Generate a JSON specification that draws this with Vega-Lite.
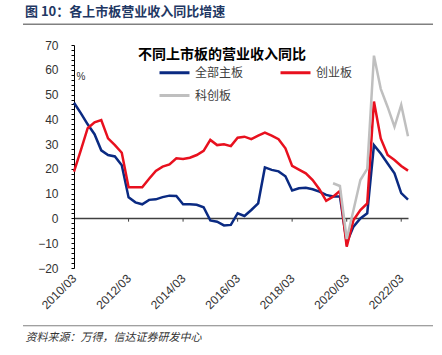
{
  "$schema": "https://vega.github.io/schema/vega-lite/v6.json",
  "width": 334,
  "height": 223,
  "autosize": {"type": "none"},
  "padding": {"left": 74, "top": 45, "right": 34, "bottom": 87},
  "config": {
    "view": {"stroke": null},
    "font": "Liberation Sans"
  },
  "title": {
    "text": "图 10：各上市板营业收入同比增速",
    "anchor": "start",
    "frame": "group",
    "dx": -49,
    "offset": 4,
    "font": "Noto Sans CJK SC",
    "fontSize": 13,
    "fontWeight": "bold",
    "color": "#1f3864"
  },
  "resolve": {"axis": {"y": "independent"}},
  "layer": [
    {
      "data": {"values": [
        {"d": "2010-03-31", "全部主板": 46.7, "创业板": 18.9},
        {"d": "2010-06-30", "全部主板": 42.5, "创业板": 27.5},
        {"d": "2010-09-30", "全部主板": 38.0, "创业板": 36.4},
        {"d": "2010-12-31", "全部主板": 34.0, "创业板": 38.8},
        {"d": "2011-03-31", "全部主板": 27.5, "创业板": 39.7},
        {"d": "2011-06-30", "全部主板": 25.6, "创业板": 32.3},
        {"d": "2011-09-30", "全部主板": 25.0, "创业板": 29.6},
        {"d": "2011-12-31", "全部主板": 21.5, "创业板": 26.5},
        {"d": "2012-03-31", "全部主板": 8.5, "创业板": 12.6},
        {"d": "2012-06-30", "全部主板": 6.5, "创业板": 12.6},
        {"d": "2012-09-30", "全部主板": 5.7, "创业板": 12.6},
        {"d": "2012-12-31", "全部主板": 7.5, "创业板": 16.0},
        {"d": "2013-03-31", "全部主板": 7.7, "创业板": 19.2},
        {"d": "2013-06-30", "全部主板": 8.6, "创业板": 20.9},
        {"d": "2013-09-30", "全部主板": 9.2, "创业板": 21.8},
        {"d": "2013-12-31", "全部主板": 9.1, "创业板": 24.3},
        {"d": "2014-03-31", "全部主板": 5.7, "创业板": 24.0},
        {"d": "2014-06-30", "全部主板": 5.7, "创业板": 24.5},
        {"d": "2014-09-30", "全部主板": 5.5, "创业板": 25.6},
        {"d": "2014-12-31", "全部主板": 4.5, "创业板": 27.3},
        {"d": "2015-03-31", "全部主板": -0.8, "创业板": 31.7},
        {"d": "2015-06-30", "全部主板": -1.3, "创业板": 29.6},
        {"d": "2015-09-30", "全部主板": -2.8, "创业板": 29.9},
        {"d": "2015-12-31", "全部主板": -2.6, "创业板": 29.2},
        {"d": "2016-03-31", "全部主板": 2.1, "创业板": 32.6},
        {"d": "2016-06-30", "全部主板": 1.0, "创业板": 33.0},
        {"d": "2016-09-30", "全部主板": 3.4, "创业板": 32.0},
        {"d": "2016-12-31", "全部主板": 6.1, "创业板": 33.4},
        {"d": "2017-03-31", "全部主板": 20.6, "创业板": 34.6},
        {"d": "2017-06-30", "全部主板": 19.6, "创业板": 33.4},
        {"d": "2017-09-30", "全部主板": 19.0, "创业板": 32.0},
        {"d": "2017-12-31", "全部主板": 17.0, "创业板": 28.3},
        {"d": "2018-03-31", "全部主板": 11.3, "创业板": 21.2},
        {"d": "2018-06-30", "全部主板": 12.2, "创业板": 19.7},
        {"d": "2018-09-30", "全部主板": 12.4, "创业板": 18.2},
        {"d": "2018-12-31", "全部主板": 11.8, "创业板": 15.5},
        {"d": "2019-03-31", "全部主板": 10.8, "创业板": 11.8},
        {"d": "2019-06-30", "全部主板": 9.5, "创业板": 7.1},
        {"d": "2019-09-30", "全部主板": 8.9, "创业板": 8.8, "科创板": 14.2},
        {"d": "2019-12-31", "全部主板": 8.9, "创业板": 11.1, "科创板": 13.1},
        {"d": "2020-03-31", "全部主板": -9.8, "创业板": -11.4, "科创板": -8.3},
        {"d": "2020-06-30", "全部主板": -3.3, "创业板": -0.6, "科创板": 3.4},
        {"d": "2020-09-30", "全部主板": 0.0, "创业板": 3.4, "科创板": 15.5},
        {"d": "2020-12-31", "全部主板": 2.1, "创业板": 6.1, "科创板": 20.0},
        {"d": "2021-03-31", "全部主板": 29.6, "创业板": 47.2, "科创板": 65.7},
        {"d": "2021-06-30", "全部主板": 26.2, "创业板": 32.3, "科创板": 52.3},
        {"d": "2021-09-30", "全部主板": 22.2, "创业板": 25.6, "科创板": 45.0},
        {"d": "2021-12-31", "全部主板": 18.2, "创业板": 23.6, "科创板": 37.0},
        {"d": "2022-03-31", "全部主板": 10.2, "创业板": 21.2, "科创板": 45.8},
        {"d": "2022-06-30", "全部主板": 7.6, "创业板": 19.3, "科创板": 33.2}
      ]},
      "transform": [
        {"fold": ["全部主板", "创业板", "科创板"], "as": ["series", "value"]},
        {"filter": "isValid(datum.value)"}
      ],
      "mark": {"type": "line", "strokeWidth": 2.5},
      "encoding": {
        "x": {
          "field": "d",
          "type": "temporal",
          "scale": {
            "type": "utc",
            "domain": [
              {"year": 2010, "month": 3, "date": 31, "utc": true},
              {"year": 2022, "month": 6, "date": 30, "utc": true}
            ]
          },
          "axis": {
            "values": [
              {"year": 2010, "month": 3, "date": 31, "utc": true},
              {"year": 2012, "month": 3, "date": 31, "utc": true},
              {"year": 2014, "month": 3, "date": 31, "utc": true},
              {"year": 2016, "month": 3, "date": 31, "utc": true},
              {"year": 2018, "month": 3, "date": 31, "utc": true},
              {"year": 2020, "month": 3, "date": 31, "utc": true},
              {"year": 2022, "month": 3, "date": 31, "utc": true}
            ],
            "format": "%Y/%m",
            "labelAngle": -45,
            "labelAlign": "right",
            "labelBaseline": "middle",
            "labelPadding": 8,
            "labelFont": "Liberation Sans",
            "labelFontSize": 12,
            "labelColor": "#333333",
            "labelOverlap": false,
            "labelFlush": false,
            "ticks": false,
            "domain": false,
            "grid": false,
            "title": "资料来源：万得，信达证券研发中心",
            "titleX": -49,
            "titleY": 69,
            "titleAlign": "left",
            "titleAnchor": "start",
            "titleBaseline": "middle",
            "titleFont": "Noto Sans CJK SC",
            "titleFontSize": 11,
            "titleFontWeight": "normal",
            "titleFontStyle": "italic",
            "titleColor": "#333333"
          }
        },
        "y": {
          "field": "value",
          "type": "quantitative",
          "scale": {"domain": [-20, 70], "nice": false, "zero": false},
          "axis": {
            "values": [-20, -18, -16, -14, -12, -10, -8, -6, -4, -2, 0, 2, 4, 6, 8, 10, 12, 14, 16, 18, 20, 22, 24, 26, 28, 30, 32, 34, 36, 38, 40, 42, 44, 46, 48, 50, 52, 54, 56, 58, 60, 62, 64, 66, 68, 70],
            "labelExpr": "datum.value % 10 == 0 ? datum.label : ''",
            "labelOverlap": false,
            "labelFlush": false,
            "labelFont": "Liberation Sans",
            "labelFontSize": 12,
            "labelColor": "#333333",
            "labelPadding": 13,
            "ticks": true,
            "tickSize": 3,
            "tickColor": "#000000",
            "domainColor": "#000000",
            "grid": true,
            "gridColor": {"condition": {"test": "datum.value === 0", "value": "#404040"}, "value": "transparent"},
            "gridWidth": 1.3,
            "title": "%",
            "titleAngle": 0,
            "titleX": 2,
            "titleY": 31,
            "titleAlign": "left",
            "titleBaseline": "middle",
            "titleFont": "Liberation Sans",
            "titleFontSize": 10,
            "titleFontWeight": "normal",
            "titleColor": "#333333"
          }
        },
        "color": {
          "field": "series",
          "type": "nominal",
          "scale": {"domain": ["全部主板", "创业板", "科创板"], "range": ["#0a2a82", "#e8101e", "#bfbfbf"]},
          "legend": {
            "orient": "none",
            "direction": "horizontal",
            "legendX": 64,
            "legendY": 3,
            "columns": 2,
            "padding": 0,
            "title": "不同上市板的营业收入同比",
            "titleFont": "Noto Sans CJK SC",
            "titleFontSize": 14,
            "titleFontWeight": "bold",
            "titleColor": "#000000",
            "titleAnchor": "start",
            "titleLimit": 400,
            "titlePadding": -6,
            "symbolType": "stroke",
            "symbolStrokeWidth": 3,
            "symbolSize": 900,
            "symbolOffset": 20,
            "labelOffset": 4,
            "labelFont": "Noto Sans CJK SC",
            "labelFontSize": 12,
            "labelColor": "#404040",
            "columnPadding": 15,
            "rowPadding": -3
          }
        }
      }
    },
    {
      "data": {"values": [{}]},
      "mark": {"type": "rule", "clip": false, "color": "#808080", "strokeWidth": 1.5},
      "encoding": {
        "x": {"datum": {"year": 2008, "month": 5, "date": 17, "utc": true}, "type": "temporal"},
        "x2": {"datum": {"year": 2023, "month": 5, "date": 31, "utc": true}},
        "y": {"datum": 78.4, "type": "quantitative", "axis": null}
      }
    },
    {
      "data": {"values": [{}]},
      "mark": {"type": "rule", "clip": false, "color": "#808080", "strokeWidth": 1.2},
      "encoding": {
        "x": {"datum": {"year": 2008, "month": 5, "date": 17, "utc": true}, "type": "temporal"},
        "x2": {"datum": {"year": 2023, "month": 5, "date": 31, "utc": true}},
        "y": {"datum": -43.3, "type": "quantitative", "axis": null}
      }
    },
    {
      "data": {"values": [
        {"t": "2012-03-31"}, {"t": "2014-03-31"}, {"t": "2016-03-31"},
        {"t": "2018-03-31"}, {"t": "2020-03-31"}, {"t": "2022-03-31"}
      ]},
      "mark": {"type": "rule", "color": "#404040", "strokeWidth": 1},
      "encoding": {
        "x": {"field": "t", "type": "temporal"},
        "y": {"datum": 0, "type": "quantitative", "axis": null},
        "y2": {"datum": -1.3}
      }
    }
  ]
}
